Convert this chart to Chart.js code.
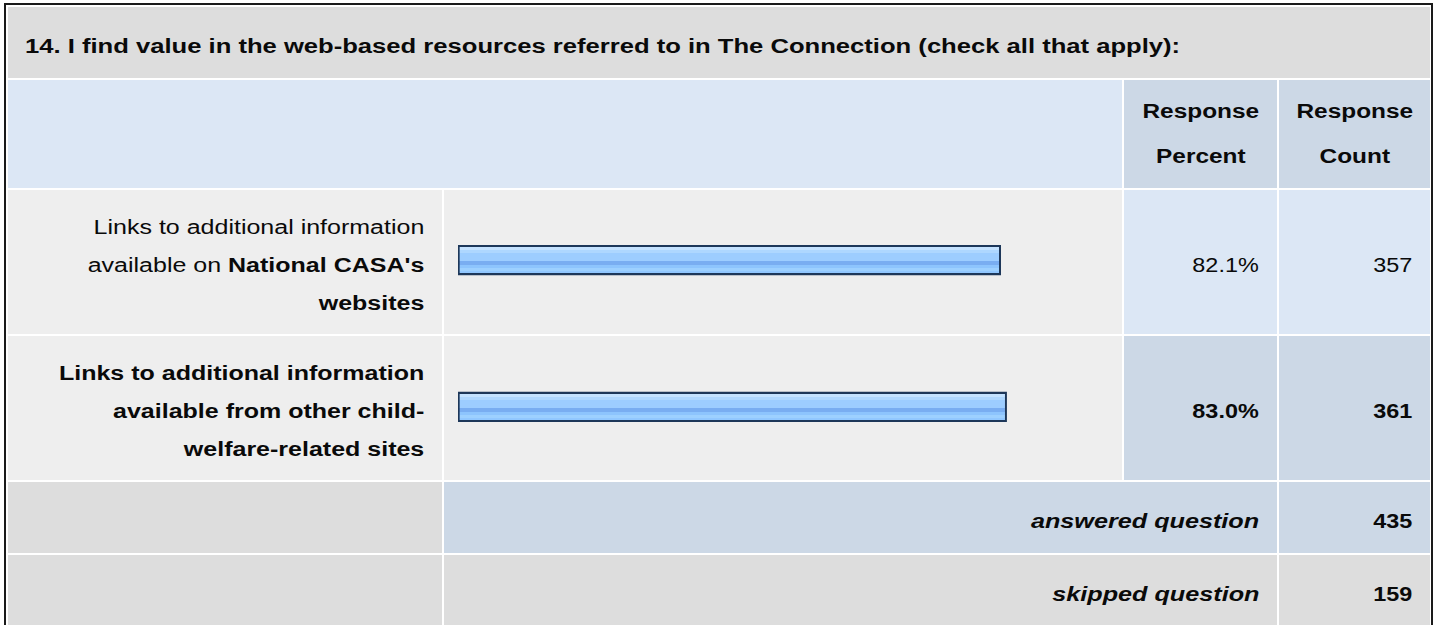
<!DOCTYPE html>
<html>
<head>
<meta charset="utf-8">
<script src="https://cdn.jsdelivr.net/npm/chart.js@4.4.1/dist/chart.umd.min.js"></script>
<style>
html,body{margin:0;padding:0;background:#fff;width:1437px;height:625px;overflow:hidden;}
body{position:relative;font-family:"Liberation Sans",Arial,Helvetica,sans-serif;color:#0a0a0a;}
.frame{position:absolute;left:4px;top:3px;width:1429px;height:680px;border:2px solid #1a1a1a;box-sizing:border-box;}
.cell{position:absolute;box-sizing:border-box;display:flex;align-items:center;}
.r{justify-content:flex-end;padding-right:18px;}
.c{justify-content:center;}
.l{justify-content:flex-start;padding-left:17px;}
.s{display:inline-block;font-size:20px;line-height:38px;white-space:nowrap;transform:scaleX(1.25);}
.r .s{transform-origin:right center;text-align:right;}
.c .s{transform-origin:center center;text-align:center;}
.l .s{transform-origin:left center;text-align:left;}
.ttl .s{transform:scaleX(1.28);}
.hd .s{transform:scaleX(1.22);line-height:45px;}
.num .s{transform:scaleX(1.17);}
.sum .s{transform:scaleX(1.26);}
.dn{padding-top:6px;}
b{font-weight:bold;}
.bi{font-weight:bold;font-style:italic;}
#bars{position:absolute;left:444px;top:187px;}
</style>
</head>
<body>
<div class="frame"></div>
<div id="table"></div>
<canvas id="bars" width="678" height="293"></canvas>
<script>
// ---- data ----
const questionTitle = "14. I find value in the web-based resources referred to in The Connection (check all that apply):";
const columnHeaders = [["Response", "Percent"], ["Response", "Count"]];
const categories = [
  "Links to additional information available on National CASA's websites",
  "Links to additional information available from other child-welfare-related sites"
];
const categoryLines = [
  ["Links to additional information", "available on National CASA's", "websites"],
  ["Links to additional information", "available from other child-", "welfare-related sites"]
];
const emphasisWords = [["National", "CASA's", "websites"], []];
const responsePercent = [82.1, 83.0];
const responseCount = [357, 361];
const summaryLabels = ["answered question", "skipped question"];
const summaryCounts = [435, 159];
const axisRange = [0, 100];

// ---- table ----
const cols = [[8, 442], [444, 1122], [1124, 1277], [1279, 1430]];
const rowsY = {title: [7, 78], head: [80, 188], data: [[190, 334], [336, 480]], sum: [[482, 553], [555, 626]]};
const C_GRAY = '#dddddd', C_ROW = '#eeeeee', C_LB = '#dce7f5', C_DB = '#ccd8e6';
const tbl = document.getElementById('table');
function cell(x0, x1, y0, y1, bg, cls, html) {
  const d = document.createElement('div');
  d.className = 'cell ' + (cls || '');
  d.style.left = x0 + 'px'; d.style.top = y0 + 'px';
  d.style.width = (x1 - x0) + 'px'; d.style.height = (y1 - y0) + 'px';
  d.style.background = bg;
  if (html !== undefined) d.innerHTML = html;
  tbl.appendChild(d);
  return d;
}
function esc(s){return s.replace(/&/g,'&amp;').replace(/</g,'&lt;');}
// title
cell(8, 1430, rowsY.title[0], rowsY.title[1], C_GRAY, 'l dn ttl', '<span class="s"><b>' + esc(questionTitle) + '</b></span>');
// header
cell(cols[0][0], cols[1][1], rowsY.head[0], rowsY.head[1], C_LB, '');
columnHeaders.forEach((h, i) => {
  cell(cols[2 + i][0], cols[2 + i][1], rowsY.head[0], rowsY.head[1], C_DB, 'c hd',
    '<span class="s"><b>' + h.map(esc).join('<br>') + '</b></span>');
});
// data rows
const topRow = responsePercent.indexOf(Math.max(...responsePercent));
categoryLines.forEach((lines, i) => {
  const [y0, y1] = rowsY.data[i];
  const allBold = i === topRow;
  const html = lines.map(line => line.split(' ').map(w => {
    const bold = allBold || emphasisWords[i].includes(w);
    return bold ? '<b>' + esc(w) + '</b>' : esc(w);
  }).join(' ')).join('<br>');
  cell(cols[0][0], cols[0][1], y0, y1, C_ROW, 'r dn', '<span class="s">' + html + '</span>');
  cell(cols[1][0], cols[1][1], y0, y1, C_ROW, '');
  const bg = allBold ? C_DB : C_LB;
  const wrap = t => allBold ? '<b>' + t + '</b>' : t;
  cell(cols[2][0], cols[2][1], y0, y1, bg, 'r dn num', '<span class="s">' + wrap(responsePercent[i].toFixed(1) + '%') + '</span>');
  cell(cols[3][0], cols[3][1], y0, y1, bg, 'r dn num', '<span class="s">' + wrap(String(responseCount[i])) + '</span>');
});
// summary rows
summaryLabels.forEach((lab, i) => {
  const [y0, y1] = rowsY.sum[i];
  const bg = i === 0 ? C_DB : C_GRAY;
  cell(cols[0][0], cols[0][1], y0, y1, C_GRAY, '');
  cell(cols[1][0], cols[2][1], y0, y1, bg, 'r dn sum', '<span class="s"><span class="bi">' + esc(lab) + '</span></span>');
  cell(cols[3][0], cols[3][1], y0, y1, bg, 'r dn num', '<span class="s"><b>' + summaryCounts[i] + '</b></span>');
});

// ---- bars (Chart.js) ----
const BAR_H = 30;
const bands = [[0,2,'#1d3759'],[2,5,'#c4e2ff'],[5,8,'#aed7ff'],[8,16,'#9dcdff'],[16,20,'#79adf1'],[20,23,'#8dc4fd'],[23,26,'#9dd0ff'],[26,28,'#91c7ff'],[28,30,'#1d3759']];
function barFill(ctx) {
  const chart = ctx.chart, ys = chart.scales && chart.scales.y;
  if (!ys || ctx.dataIndex === undefined || !isFinite(ys.getPixelForValue(ctx.dataIndex))) return '#9dcdff';
  const c = ys.getPixelForValue(ctx.dataIndex);
  const t0 = c - BAR_H / 2;
  const g = chart.ctx.createLinearGradient(0, t0, 0, t0 + BAR_H);
  bands.forEach(([a, b, col]) => { g.addColorStop(a / BAR_H, col); g.addColorStop(Math.min(b / BAR_H, 1) - 0.0001, col); });
  return g;
}
new Chart(document.getElementById('bars'), {
  type: 'bar',
  data: {
    labels: categories,
    datasets: [{
      data: responsePercent,
      backgroundColor: barFill,
      borderColor: '#1d3759',
      borderWidth: 2,
      borderSkipped: false,
      barThickness: BAR_H
    }]
  },
  options: {
    indexAxis: 'y',
    responsive: false,
    animation: false,
    devicePixelRatio: 1,
    events: [],
    layout: {padding: {left: 14, right: 3, top: 0, bottom: 0}},
    plugins: {legend: {display: false}, tooltip: {enabled: false}},
    scales: {
      x: {type: 'linear', min: axisRange[0], max: axisRange[1], display: false},
      y: {type: 'category', display: false, offset: true}
    }
  }
});
</script>
</body>
</html>
